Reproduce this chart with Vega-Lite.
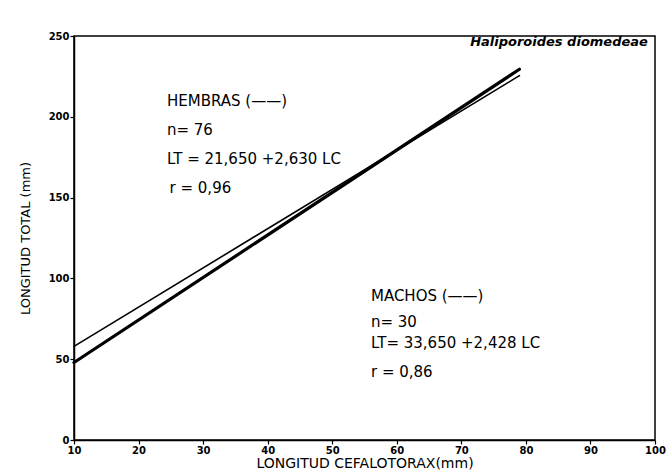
{
  "$schema": "https://vega.github.io/schema/vega-lite/v6.json",
  "width": 581,
  "height": 404,
  "autosize": {"type": "none"},
  "padding": {"left": 74, "top": 36, "right": 14, "bottom": 35},
  "background": "white",
  "config": {
    "view": {"stroke": "black", "strokeWidth": 1.5},
    "font": "DejaVu Sans",
    "axis": {
      "domainColor": "black",
      "domainWidth": 1.5,
      "tickColor": "black",
      "tickWidth": 1.2,
      "tickSize": 4,
      "labelColor": "black",
      "titleColor": "black",
      "grid": false
    }
  },
  "datasets": {
    "rectas": [
      {"sexo": "Hembras", "lc": 10, "lt": 47.95},
      {"sexo": "Hembras", "lc": 79, "lt": 229.42},
      {"sexo": "Machos", "lc": 10, "lt": 57.93},
      {"sexo": "Machos", "lc": 79, "lt": 225.46}
    ],
    "notas": [
      {"texto": "HEMBRAS (——)", "lc": 24.4, "lt": 210},
      {"texto": "n= 76", "lc": 24.4, "lt": 192},
      {"texto": "LT = 21,650 +2,630 LC", "lc": 24.4, "lt": 174},
      {"texto": "r = 0,96", "lc": 24.8, "lt": 156},
      {"texto": "MACHOS (——)", "lc": 56, "lt": 89},
      {"texto": "n= 30", "lc": 56, "lt": 73},
      {"texto": "LT= 33,650 +2,428 LC", "lc": 56, "lt": 60},
      {"texto": "r = 0,86", "lc": 56, "lt": 42}
    ],
    "especie": [
      {"texto": "Haliporoides diomedeae", "lc": 98.9, "lt": 246}
    ]
  },
  "layer": [
    {
      "data": {"name": "rectas"},
      "mark": {"type": "line", "color": "black", "strokeCap": "round"},
      "encoding": {
        "x": {
          "field": "lc",
          "type": "quantitative",
          "scale": {"domain": [10, 100], "nice": false, "zero": false},
          "axis": {
            "title": "LONGITUD CEFALOTORAX(mm)",
            "titleFontSize": 14,
            "titleFontWeight": "normal",
            "titlePadding": 1,
            "values": [10, 20, 30, 40, 50, 60, 70, 80, 90, 100],
            "labelFontSize": 10,
            "labelFontWeight": "bold",
            "labelPadding": 1,
            "labelFlush": false
          }
        },
        "y": {
          "field": "lt",
          "type": "quantitative",
          "scale": {"domain": [0, 250], "nice": false},
          "axis": {
            "title": "LONGITUD TOTAL (mm)",
            "titleFontSize": 13,
            "titleFontWeight": "normal",
            "titlePadding": 16,
            "values": [0, 50, 100, 150, 200, 250],
            "labelFontSize": 10,
            "labelFontWeight": "bold",
            "labelPadding": 1
          }
        },
        "detail": {"field": "sexo"},
        "strokeWidth": {
          "field": "sexo",
          "type": "nominal",
          "scale": {"domain": ["Hembras", "Machos"], "range": [3.2, 1.6]},
          "legend": null
        }
      }
    },
    {
      "data": {"name": "notas"},
      "mark": {"type": "text", "align": "left", "baseline": "middle", "fontSize": 15, "color": "black"},
      "encoding": {
        "x": {"field": "lc", "type": "quantitative"},
        "y": {"field": "lt", "type": "quantitative"},
        "text": {"field": "texto"}
      }
    },
    {
      "data": {"name": "especie"},
      "mark": {"type": "text", "align": "right", "baseline": "middle", "fontSize": 13, "fontStyle": "italic", "fontWeight": "bold", "color": "black"},
      "encoding": {
        "x": {"field": "lc", "type": "quantitative"},
        "y": {"field": "lt", "type": "quantitative"},
        "text": {"field": "texto"}
      }
    }
  ]
}
